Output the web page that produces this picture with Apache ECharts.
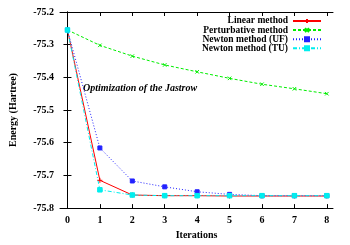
<!DOCTYPE html>
<html>
<head>
<meta charset="utf-8">
<script src="https://cdn.jsdelivr.net/npm/echarts@6/dist/echarts.min.js"></script>
<style>
html,body{margin:0;padding:0;background:#fff;}
#chart{width:350px;height:245px;}
</style>
</head>
<body>
<div id="chart"></div>
<script>
const iterations = [0, 1, 2, 3, 4, 5, 6, 7, 8];
const linearMethod = [-75.255, -75.715, -75.760, -75.762, -75.762, -75.763, -75.763, -75.763, -75.763];
const perturbativeMethod = [-75.255, -75.302, -75.335, -75.362, -75.383, -75.403, -75.421, -75.435, -75.450];
const newtonUF = [-75.255, -75.616, -75.717, -75.735, -75.750, -75.758, -75.762, -75.762, -75.762];
const newtonTU = [-75.255, -75.744, -75.760, -75.762, -75.762, -75.762, -75.762, -75.762, -75.762];
const seriesNames = ['Linear method', 'Perturbative method', 'Newton method (UF)', 'Newton method (TU)'];
const xTicks = [0, 1, 2, 3, 4, 5, 6, 7, 8];
const yTicks = [-75.8, -75.7, -75.6, -75.5, -75.4, -75.3, -75.2];
const annotation = 'Optimization of the Jastrow';

const FONT = "'Liberation Serif', 'DejaVu Serif', serif";
const pairs = arr => iterations.map((x, i) => [x, arr[i]]);
const XMIN = -0.23, XMAX = 8.19;

const chart = echarts.init(document.getElementById('chart'), null, {renderer: 'canvas'});
const tickCommon = {show: true, inside: true, length: 4, lineStyle: {color: '#000', width: 1}};
const lineCommon = {show: true, lineStyle: {color: '#000', width: 1}};

function mk(name, data, color, type, symbol, size) {
  return {
    name: name, type: 'line', data: pairs(data), xAxisIndex: 0, yAxisIndex: 0,
    symbol: symbol, symbolSize: size, showSymbol: true,
    lineStyle: {color: color, width: 1, type: type},
    itemStyle: {color: color, borderColor: color, borderWidth: 1},
    animation: false
  };
}

const option = {
  animation: false,
  backgroundColor: '#fff',
  grid: {left: 55, top: 12, right: 17, bottom: 29, containLabel: false},
  legend: {
    orient: 'vertical', align: 'right', right: 28, top: 16, padding: 0,
    itemWidth: 28, itemHeight: 5, itemGap: -0.9,
    textStyle: {fontFamily: FONT, fontWeight: 'bold', fontSize: 9.5, color: '#000', padding: [0, 0, 0, 0]},
    data: seriesNames
  },
  xAxis: [{
    type: 'value', position: 'bottom', min: XMIN, max: XMAX,
    axisLine: lineCommon, splitLine: {show: false},
    axisTick: Object.assign({customValues: xTicks}, tickCommon),
    axisLabel: {customValues: xTicks, margin: 7, fontFamily: FONT, fontWeight: 'bold', fontSize: 10, color: '#000'},
    name: 'Iterations', nameLocation: 'middle', nameGap: 19,
    nameTextStyle: {fontFamily: FONT, fontWeight: 'bold', fontSize: 10, color: '#000'}
  }, {
    type: 'value', position: 'top', min: XMIN, max: XMAX,
    axisLine: lineCommon, splitLine: {show: false},
    axisTick: Object.assign({customValues: xTicks}, tickCommon),
    axisLabel: {show: false}
  }],
  yAxis: [{
    type: 'value', position: 'left', min: -75.8, max: -75.2,
    axisLine: lineCommon, splitLine: {show: false},
    axisTick: Object.assign({customValues: yTicks}, tickCommon),
    axisLabel: {customValues: yTicks, margin: 6, fontFamily: FONT, fontWeight: 'bold', fontSize: 10, color: '#000',
      formatter: v => v.toFixed(1)},
    name: 'Energy (Hartree)', nameLocation: 'middle', nameGap: 42,
    nameTextStyle: {fontFamily: FONT, fontWeight: 'bold', fontSize: 10, color: '#000'}
  }, {
    type: 'value', position: 'right', min: -75.8, max: -75.2,
    axisLine: lineCommon, splitLine: {show: false},
    axisTick: Object.assign({customValues: yTicks}, tickCommon),
    axisLabel: {show: false}
  }],
  graphic: [{
    type: 'text', left: 83, top: 83,
    style: {text: annotation, font: "italic bold 10px 'Liberation Serif', serif", fill: '#000'}
  }],
  series: [
    mk(seriesNames[0], linearMethod, '#ff0000', 'solid', 'path://M5,0L5,10M0,5L10,5', 5),
    mk(seriesNames[1], perturbativeMethod, '#00ee00', [3, 2], 'path://M0,0L10,10M0,10L10,0', 3.5),
    mk(seriesNames[2], newtonUF, '#2222ff', [1, 2], 'rect', 4),
    mk(seriesNames[3], newtonTU, '#00eeee', [4, 2, 1, 2], 'rect', 4.5)
  ]
};
chart.setOption(option);
</script>
</body>
</html>
